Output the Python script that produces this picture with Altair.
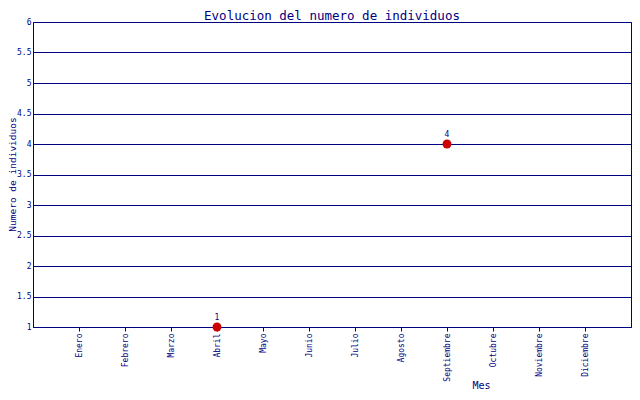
import altair as alt
import pandas as pd

months = ["Enero", "Febrero", "Marzo", "Abril", "Mayo", "Junio", "Julio",
          "Agosto", "Septiembre", "Octubre", "Noviembre", "Diciembre"]
point_months = ["Abril", "Septiembre"]
point_values = [1, 4]
y_ticks = [1, 1.5, 2, 2.5, 3, 3.5, 4, 4.5, 5, 5.5, 6]

NAVY = "#000080"
RED = "#cc0000"
FONT = "DejaVu Sans Mono"

df = pd.DataFrame({"Mes": point_months, "valor": point_values})

x_enc = alt.X("Mes:N", sort=months,
              scale=alt.Scale(domain=months, type="point", padding=1),
              axis=alt.Axis(title="Mes", labelAngle=270, labelAlign="right",
                            labelBaseline="middle", labelFontSize=8, labelFont=FONT,
                            labelColor=NAVY, tickColor=NAVY, tickSize=4,
                            domainColor=NAVY, labelPadding=2,
                            titleFont=FONT, titleFontSize=10, titleFontWeight="normal",
                            titleColor=NAVY, titleX=448, titleY=61,
                            titleBaseline="alphabetic", grid=False))
y_enc = alt.Y("valor:Q",
              scale=alt.Scale(domain=[1, 6], nice=False, zero=False),
              axis=alt.Axis(title="Numero de individuos", values=y_ticks, format="~g",
                            labelFontSize=8, labelFont=FONT, labelColor=NAVY,
                            ticks=False, labelPadding=2, domainColor=NAVY,
                            gridColor=NAVY, gridOpacity=1, gridWidth=1,
                            titleFont=FONT, titleFontSize=9.5, titleFontWeight="normal",
                            titleColor=NAVY, titleAngle=270, titleX=-18, titleY=152,
                            titleAlign="center", titleBaseline="alphabetic"))

points = alt.Chart(df).mark_circle(color=RED, size=80, opacity=1).encode(x=x_enc, y=y_enc)
labels = alt.Chart(df).mark_text(color=NAVY, fontSize=8, font=FONT, dy=-9).encode(
    x=x_enc, y=y_enc, text="valor:Q")

chart = alt.layer(points, labels).properties(
    width=598, height=305,
    autosize=alt.AutoSizeParams(type="none"),
    padding={"left": 25, "top": 14, "right": 1, "bottom": 63},
    background="white",
    title=alt.TitleParams("Evolucion del numero de individuos", font=FONT,
                          fontSize=12.5, fontWeight="normal", color=NAVY,
                          anchor="middle", offset=3, dy=7),
).configure_view(stroke=NAVY, strokeWidth=1)

chart.save("out.html", embed_options={"renderer": "svg", "actions": False})
